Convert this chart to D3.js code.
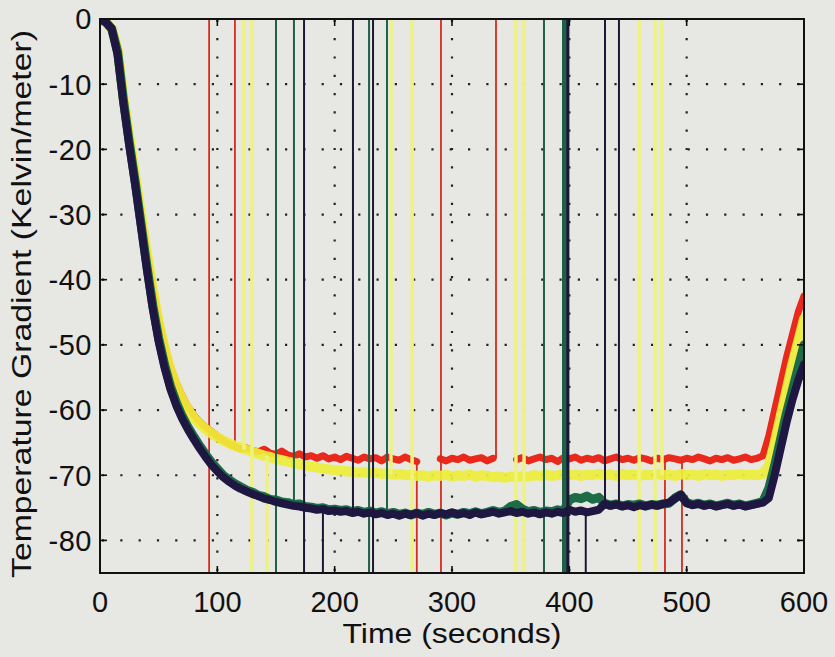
<!DOCTYPE html>
<html><head><meta charset="utf-8">
<script src="https://cdn.jsdelivr.net/npm/d3@7"></script>
<style>
html,body{margin:0;padding:0;background:#e7e7e3;}
svg{display:block;}
text{font-family:"Liberation Sans",Arial,Helvetica,sans-serif;fill:#111;}
</style></head>
<body>
<svg id="chart" width="835" height="657"></svg>
<script>
// ---------------- data ----------------
const times = d3.range(0, 601, 5); // seconds, 121 samples
const xTicks = [0, 100, 200, 300, 400, 500, 600];
const yTicks = [0, -10, -20, -30, -40, -50, -60, -70, -80];

const redValues = [
  0, -0.5, -1.5, -4.5, -12, -18, -24, -30, -35.5, -41,
  -46, -50, -53.3, -55.8, -57.8, -59.5, -60.8, -61.8, -62.6, -63.3,
  -64, -64.6, -65.2, -65.6, -66, -65.8, -66.2, -66.4, -66, -66.6,
  -66.8, -66.3, -66.9, -67.1, -66.7, -67.2, -67, -67.4, -67, -67.5,
  -67.2, -67.6, -67.1, -67.4, -67.7, -67.2, -67.5, -67.3, -67.8, -67.2,
  -67.5, -67.7, -67.2, -67.6, -67.9, null, null, null, -67.5, -67.8,
  -67.4, -67.6, -67.2, -67.7, -67.5, -67.3, -67.8, -67.4, null, null,
  null, -67.6, -67.3, -67.8, -67.5, -67.2, -67.6, -67.4, -67.9, -67.3,
  -67.5, -67.2, -67.7, -67.4, -67.6, -67.3, -67.8, -67.5, -67.2, -67.6,
  -67.4, -67.7, -67.3, -67.5, -67.8, -67.4, -67.6, -67.3, -67.5, -67.7,
  -67.4, -67.6, -67.2, -67.5, -67.8, -67.4, -67.6, -67.3, -67.7, -67.5,
  -67.2, -67.6, -67.4, -67, -64, -60, -56, -52, -48.5, -45,
  -42.5
];
const yellowValues = [
  0, -0.5, -1.5, -4.5, -12, -18, -24, -30, -36, -41.5,
  -46.5, -50.5, -53.8, -56.3, -58.3, -59.9, -61.2, -62.1, -62.9, -63.6,
  -64.2, -64.7, -65.1, -65.5, -65.8, -66.1, -66.4, -66.7, -67, -67.2,
  -67.5, -67.7, -67.9, -68.1, -68.3, -68.5, -68.7, -68.8, -69, -69.1,
  -69.2, -69.3, -69.4, -69.5, -69.6, -69.5, -69.7, -69.6, -69.8, -69.7,
  -69.9, -69.8, -70, -69.9, -70.1, -70, -70.2, -70, -70.1, -69.9,
  -70.2, -70, -70.1, -69.9, -70.2, -70, -70.1, -70.3, -70.2, -70.4,
  -70.2, -70.3, -70.1, -70.2, -70, -70.1, -69.9, -70.1, -70, -69.8,
  -70, -69.9, -70.1, -69.9, -70, -69.8, -70, -69.9, -70.1, -69.8,
  -70, -69.9, -70.1, -69.9, -70, -69.8, -70, -69.9, -70.1, -69.8,
  -70, -69.9, -70.1, -69.8, -70, -69.9, -70.1, -69.9, -70, -69.8,
  -70, -69.9, -70, -69.8, -68.5, -65, -61, -57, -53, -49.5,
  -46
];
const greenValues = [
  0, -0.5, -1.5, -5, -12.5, -19, -25, -31.5, -38, -44,
  -49, -53, -56.3, -58.8, -60.9, -62.6, -64.1, -65.5, -66.8, -68,
  -69, -70, -70.7, -71.3, -71.8, -72.3, -72.6, -73.1, -73.3, -73.7,
  -73.8, -74.1, -74.2, -74.5, -74.4, -74.8, -74.9, -75.1, -75, -75.3,
  -75.2, -75.4, -75.3, -75.6, -75.4, -75.7, -75.5, -75.8, -75.6, -75.9,
  -75.7, -76, -75.8, -76.1, -75.8, -76, -75.7, -76, -75.8, -76.1,
  -75.8, -76, -75.7, -75.9, -75.6, -75.9, -75.7, -75.4, -75.7, -75.5,
  -74.8, -74.5, -75.2, -75.6, -75.4, -75.7, -75.5, -75.6, -75.3, -75.5,
  -73.8, -73.4, -73.6, -73.2, -73.7, -73.4, -74.3, -74.6, -74.4, -74.7,
  -74.5, -74.6, -74.4, -74.7, -74.5, -74.6, -74.4, -74.3, -73.5, -73,
  -74.2, -74.5, -74.3, -74.6, -74.4, -74.7, -74.5, -74.3, -74.6, -74.4,
  -74.7, -74.5, -74.3, -74, -72, -68.5, -64.5, -60.5, -57, -53.5,
  -50
];
const navyValues = [
  0, -0.5, -1.5, -5.5, -13, -19.5, -25.5, -32, -38.5, -44.5,
  -49.5, -53.5, -56.8, -59.3, -61.3, -63, -64.5, -65.9, -67.2, -68.4,
  -69.4, -70.3, -71, -71.6, -72.1, -72.5, -72.9, -73.2, -73.6, -73.8,
  -74.1, -74.3, -74.5, -74.7, -74.8, -75, -75.1, -75.3, -75.2, -75.5,
  -75.4, -75.6, -75.5, -75.8, -75.6, -75.9, -75.7, -76, -75.8, -76.1,
  -75.9, -76.2, -75.9, -76.1, -75.8, -76.2, -75.9, -76.1, -75.8, -76,
  -75.7, -76, -75.8, -76.1, -75.7, -76, -75.8, -75.6, -75.9, -75.7,
  -75.5, -75.8, -75.6, -75.9, -75.7, -76, -75.7, -75.9, -75.6, -75.8,
  -75.3, -75.6, -75.4, -75.7, -75.5, -75.3, -74.4, -74.7, -74.5, -74.8,
  -74.6, -74.9, -74.6, -74.8, -74.5, -74.7, -74.4, -74.2, -73.6, -73,
  -74.3, -74.6, -74.4, -74.7, -74.5, -74.8, -74.6, -74.4, -74.7, -74.5,
  -74.8, -74.6, -74.4, -74.2, -73.5, -70, -66, -62, -58.5, -55.5,
  -53
];

// glitch events (time in s): full = off-scale both ways, up = to top, down = to bottom
const redSpikes = [[93, "full"], [115, "up"], [270, "down"], [290.6, "full"], [337.5, "up"], [481.5, "down"], [496, "down"]];
const yellowSpikes = [[122.7, "up"], [129.5, "full"], [142.3, "down"], [248, "up"], [266, "full"], [354.5, "full"], [361.4, "full"], [459.5, "full"], [473, "full"], [479, "up"]];
const greenSpikes = [[150, "full"], [165.3, "up"], [229.3, "full"], [244.6, "up"], [378.4, "full"], [394.6, "full"], [395.5, "full"], [396.4, "full"], [397.3, "full"]];
const navySpikes = [[173.9, "full"], [190, "down"], [215.6, "up"], [232.7, "full"], [398.3, "full"], [399.2, "full"], [414, "down"], [430.4, "up"], [442.3, "up"]];

// ---------------- chart ----------------
const svg = d3.select("#chart");
const L = 100, R = 804, T = 19, B = 573;
const x = d3.scaleLinear().domain([0, 600]).range([L, R]);
const y = d3.scaleLinear().domain([-85, 0]).range([B, T]);

svg.append("rect").attr("width", 835).attr("height", 657).attr("fill", "#e7e7e3");

svg.append("defs").append("clipPath").attr("id", "clip")
  .append("rect").attr("x", L).attr("y", T).attr("width", R - L).attr("height", B - T);

// grid
const grid = svg.append("g");
yTicks.filter(v => v > -85 && v < 0).forEach(v => {
  grid.append("line").attr("x1", L + 2).attr("x2", R).attr("y1", y(v)).attr("y2", y(v))
    .attr("stroke", "#222").attr("stroke-width", 2.2).attr("stroke-dasharray", "2.2 16.1");
});
xTicks.filter(v => v > 0 && v < 600).forEach(v => {
  grid.append("line").attr("x1", x(v)).attr("x2", x(v)).attr("y1", B - 2).attr("y2", T)
    .attr("stroke", "#222").attr("stroke-width", 2.2).attr("stroke-dasharray", "2.2 16.1");
});

const series = [
  {values: redValues, spikes: redSpikes, color: "#e8291c", width: 7, spikeColor: "#d42c1f", spikeWidth: 1.8, opacity: 1},
  {values: yellowValues, spikes: yellowSpikes, color: "#eeee3a", width: 10, spikeColor: "#eef27e", spikeWidth: 3.5, opacity: 0.92},
  {values: greenValues, spikes: greenSpikes, color: "#1d6b47", width: 9, spikeColor: "#1f6247", spikeWidth: 2, opacity: 1},
  {values: navyValues, spikes: navySpikes, color: "#1d1742", width: 8, spikeColor: "#1e1838", spikeWidth: 2, opacity: 1}
];

const plot = svg.append("g").attr("clip-path", "url(#clip)");
const line = d3.line().defined(d => d[1] != null).x(d => x(d[0])).y(d => y(d[1]));

function valueAt(vals, t) {
  let best = null, bd = Infinity;
  times.forEach((tt, i) => {
    if (vals[i] != null && Math.abs(tt - t) < bd) { bd = Math.abs(tt - t); best = vals[i]; }
  });
  return best;
}

series.forEach(s => {
  const pts = times.map((t, i) => [t, s.values[i]]);
  plot.append("path").datum(pts).attr("d", line)
    .attr("fill", "none").attr("stroke", s.color).attr("stroke-width", s.width)
    .attr("stroke-linejoin", "round").attr("stroke-linecap", "round").attr("opacity", s.opacity);
  s.spikes.forEach(([t, kind]) => {
    const v = valueAt(s.values, t);
    let y1 = y(0), y2 = y(-85);
    if (kind === "up") { y1 = y(0); y2 = y(v); }
    if (kind === "down") { y1 = y(v); y2 = y(-85); }
    plot.append("line").attr("x1", x(t)).attr("x2", x(t)).attr("y1", y1).attr("y2", y2)
      .attr("stroke", s.spikeColor).attr("stroke-width", s.spikeWidth);
  });
});

// box and ticks
svg.append("rect").attr("x", L).attr("y", T).attr("width", R - L).attr("height", B - T)
  .attr("fill", "none").attr("stroke", "#111").attr("stroke-width", 2);
const tk = svg.append("g").attr("stroke", "#111").attr("stroke-width", 1.6);
xTicks.forEach(v => {
  tk.append("line").attr("x1", x(v)).attr("x2", x(v)).attr("y1", B).attr("y2", B - 7);
  tk.append("line").attr("x1", x(v)).attr("x2", x(v)).attr("y1", T).attr("y2", T + 7);
});
yTicks.forEach(v => {
  tk.append("line").attr("x1", L).attr("x2", L + 7).attr("y1", y(v)).attr("y2", y(v));
  tk.append("line").attr("x1", R).attr("x2", R - 7).attr("y1", y(v)).attr("y2", y(v));
});

// tick labels
svg.append("g").selectAll("text").data(xTicks).join("text")
  .attr("x", d => x(d)).attr("y", 612).attr("text-anchor", "middle")
  .attr("font-size", 29).text(d => d);
svg.append("g").selectAll("text").data(yTicks).join("text")
  .attr("x", 92).attr("y", d => y(d)).attr("dy", "0.36em").attr("text-anchor", "end")
  .attr("font-size", 29).attr("letter-spacing", 0.5).text(d => d);

// axis titles
svg.append("text").attr("x", 452).attr("y", 643).attr("text-anchor", "middle")
  .attr("font-size", 28).attr("textLength", 219).attr("lengthAdjust", "spacingAndGlyphs")
  .text("Time (seconds)");
svg.append("text").attr("transform", "translate(31,304) rotate(-90)").attr("text-anchor", "middle")
  .attr("font-size", 28).attr("textLength", 548).attr("lengthAdjust", "spacingAndGlyphs")
  .text("Temperature Gradient (Kelvin/meter)");
</script>
</body></html>
